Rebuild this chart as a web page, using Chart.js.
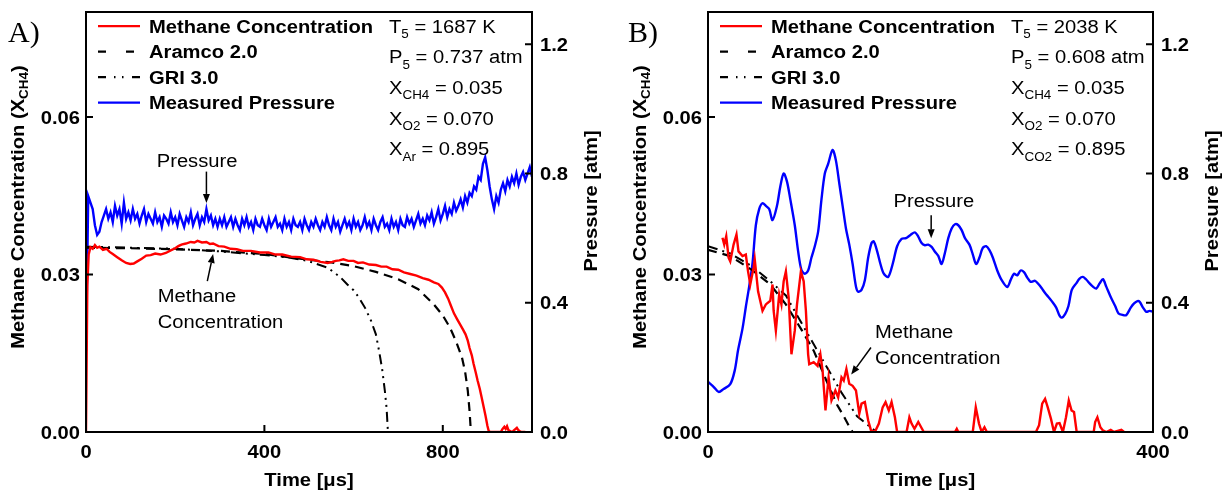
<!DOCTYPE html>
<html>
<head>
<meta charset="utf-8">
<script src="https://cdn.jsdelivr.net/npm/chart.js@4.4.0/dist/chart.umd.min.js"></script>
<style>
body { margin: 0; background: #fff; }
#wrap { position: relative; width: 1225px; height: 493px; }
.panel { position: absolute; top: 0; height: 493px; }
</style>
</head>
<body>
<div id="wrap">
  <div class="panel" style="left:0;width:612px"><canvas id="chartA"></canvas></div>
  <div class="panel" style="left:612px;width:613px"><canvas id="chartB"></canvas></div>
</div>
<script>
// ---- tick labels ----
var xTicksA = [0, 400, 800];
var xTicksB = [0, 400];
var concTicks = [0, 0.03, 0.06];
var concTickLabels = ['0.00', '0.03', '0.06'];
var pressTicks = [0, 0.4, 0.8, 1.2];
var pressTickLabels = ['0.0', '0.4', '0.8', '1.2'];

var seriesNames = ['Methane Concentration', 'Aramco 2.0', 'GRI 3.0', 'Measured Pressure'];

// ---- panel A (T5 = 1687 K) ----
var methaneTimeA = [0, 3, 6, 10, 15, 20, 25, 30, 38, 46, 53, 60, 70, 80, 90, 99, 107, 115, 125, 135, 145, 155, 167, 179, 190, 200, 207, 214, 224, 235, 243, 250, 260, 270, 278, 285, 297, 310, 324, 338, 352, 370, 390, 409, 425, 440, 460, 480, 495, 510, 526, 542, 552, 560, 568, 577, 588, 600, 610, 621, 635, 650, 662, 674, 687, 700, 713, 727, 741, 755, 768, 780, 790, 798, 805, 812, 818, 825, 832, 840, 846, 851, 856, 860, 865, 869, 874, 878, 883, 887, 892, 896, 900, 903, 906, 930, 934, 938, 941, 944, 947, 950, 955, 958, 962, 966, 969, 972, 976, 985];
var methaneA = [0, 0.028, 0.0338, 0.0352, 0.0349, 0.0356, 0.0351, 0.0353, 0.0347, 0.0349, 0.0343, 0.0339, 0.0333, 0.0327, 0.0322, 0.0320, 0.0321, 0.0325, 0.0330, 0.0336, 0.0337, 0.0340, 0.0338, 0.0341, 0.0346, 0.0350, 0.0354, 0.0357, 0.0359, 0.0362, 0.0361, 0.0364, 0.0361, 0.0362, 0.0358, 0.0359, 0.0354, 0.0353, 0.0349, 0.0348, 0.0345, 0.0345, 0.0342, 0.0342, 0.0338, 0.0338, 0.0334, 0.0333, 0.0329, 0.0328, 0.0324, 0.0322, 0.0324, 0.0326, 0.0327, 0.0329, 0.0326, 0.0326, 0.0322, 0.0323, 0.0319, 0.0318, 0.0315, 0.0315, 0.0310, 0.0309, 0.0304, 0.0301, 0.0298, 0.0293, 0.0290, 0.0285, 0.0282, 0.0275, 0.0266, 0.0254, 0.0241, 0.0226, 0.0215, 0.0203, 0.0194, 0.0186, 0.0174, 0.0160, 0.0146, 0.0130, 0.0113, 0.0098, 0.0082, 0.0066, 0.0046, 0.0030, 0.0012, 0.0002, 0, 0, 0.0006, 0.0010, 0.0006, 0.0011, 0.0004, 0.0002, 0, 0.0002, 0.0005, 0.0008, 0.0004, 0.0002, 0, 0];

var aramcoTimeA = [0, 100, 200, 300, 400, 500, 550, 600, 650, 700, 745, 780, 800, 816, 830, 843, 850, 856, 860, 863];
var aramcoA = [0.0351, 0.0350, 0.0348, 0.0345, 0.0339, 0.0328, 0.0323, 0.0316, 0.0305, 0.0291, 0.0272, 0.0243, 0.0222, 0.0199, 0.0172, 0.0142, 0.0115, 0.0079, 0.0040, 0];

var griTimeA = [0, 100, 200, 300, 400, 450, 497, 542, 570, 586, 600, 612, 626, 639, 650, 657, 664, 670, 674, 677];
var griA = [0.0353, 0.0351, 0.0349, 0.0344, 0.0337, 0.0333, 0.0326, 0.0313, 0.0295, 0.0281, 0.0270, 0.0256, 0.0236, 0.0212, 0.0186, 0.0155, 0.0120, 0.0079, 0.0045, 0];

// measured pressure, one sample every 5 us from 0 to 1000 us
var pressureStepA = 5;
var pressureA = [
  0.25, 0.73, 0.71, 0.69, 0.64, 0.61, 0.62, 0.65, 0.67, 0.69, 0.66, 0.68, 0.65, 0.70, 0.67, 0.69, 0.645, 0.71, 0.66, 0.68,
  0.655, 0.69, 0.66, 0.675, 0.645, 0.67, 0.69, 0.65, 0.675, 0.66, 0.645, 0.68, 0.65, 0.665, 0.635, 0.67, 0.66, 0.645, 0.68, 0.65,
  0.665, 0.64, 0.675, 0.655, 0.635, 0.665, 0.65, 0.68, 0.64, 0.66, 0.675, 0.64, 0.665, 0.65, 0.69, 0.655, 0.67, 0.64, 0.66, 0.635,
  0.66, 0.64, 0.665, 0.635, 0.65, 0.665, 0.635, 0.66, 0.64, 0.625, 0.66, 0.64, 0.665, 0.635, 0.65, 0.625, 0.66, 0.64, 0.635, 0.66,
  0.64, 0.625, 0.66, 0.635, 0.65, 0.665, 0.635, 0.645, 0.625, 0.66, 0.635, 0.65, 0.625, 0.66, 0.64, 0.635, 0.65, 0.625, 0.66, 0.64,
  0.625, 0.65, 0.635, 0.66, 0.64, 0.625, 0.65, 0.635, 0.665, 0.64, 0.625, 0.66, 0.635, 0.65, 0.62, 0.64, 0.66, 0.635, 0.65, 0.625,
  0.66, 0.635, 0.65, 0.625, 0.64, 0.665, 0.635, 0.65, 0.625, 0.66, 0.64, 0.625, 0.65, 0.665, 0.635, 0.645, 0.625, 0.66, 0.635, 0.65,
  0.625, 0.66, 0.64, 0.635, 0.665, 0.645, 0.66, 0.635, 0.655, 0.675, 0.645, 0.66, 0.64, 0.67, 0.655, 0.68, 0.645, 0.665, 0.69, 0.655,
  0.675, 0.70, 0.665, 0.69, 0.675, 0.71, 0.685, 0.70, 0.72, 0.695, 0.73, 0.71, 0.74, 0.73, 0.76, 0.75, 0.79, 0.78, 0.83, 0.85,
  0.81, 0.76, 0.72, 0.69, 0.73, 0.71, 0.75, 0.77, 0.745, 0.78, 0.76, 0.79, 0.77, 0.80, 0.765, 0.79, 0.805, 0.78, 0.80, 0.82,
  0.79
];

// ---- panel B (T5 = 2038 K) ----
var methaneTimeB = [13, 14.6, 16.4, 18.5, 20, 23, 25.6, 27.4, 31, 34, 36, 38, 41, 42, 45, 49, 52, 56, 58, 59, 61, 64, 66, 68, 70, 72.5, 75, 78, 80, 83.5, 86, 88, 90, 91, 95, 98.5, 101, 103, 105.6, 108.4, 111, 114.5, 117, 120, 122, 124.4, 127, 130, 133, 136, 138, 141, 144, 146.5, 150, 153.6, 157, 159.6, 162.5, 165, 168, 170, 178.5, 181, 183, 185.6, 189, 191.6, 194, 222, 223.6, 225, 238, 240.7, 243.6, 246, 248.5, 250.7, 294.8, 297.6, 300.4, 303, 305.4, 308.3, 311, 313.6, 316, 319, 321.8, 324.3, 326.8, 329, 331.4, 346.7, 348, 350, 352.7, 355, 358, 362, 365, 371.6, 374];
var methaneB = [0.0370, 0.0357, 0.0373, 0.0332, 0.0325, 0.0357, 0.0376, 0.0344, 0.0335, 0.0338, 0.0306, 0.0281, 0.0313, 0.0329, 0.0268, 0.0231, 0.0243, 0.0250, 0.0281, 0.0231, 0.0193, 0.0262, 0.0243, 0.0287, 0.0306, 0.0256, 0.0148, 0.0193, 0.0243, 0.0306, 0.0287, 0.0231, 0.0148, 0.0129, 0.0133, 0.0126, 0.0148, 0.0117, 0.0041, 0.0104, 0.0060, 0.0079, 0.0066, 0.0104, 0.0098, 0.0120, 0.0092, 0.0088, 0.0079, 0.0035, 0.0054, 0.0057, 0.0022, 0.0003, 0, 0.0016, 0.0047, 0.0057, 0.0041, 0.0057, 0.0028, 0, 0, 0.0028, 0.0016, 0.0006, 0.0019, 0.0009, 0, 0, 0.0006, 0, 0, 0.0047, 0.0016, 0, 0.0009, 0, 0, 0.0013, 0.0054, 0.0063, 0.0047, 0.0025, 0, 0.0016, 0.0017, 0, 0.0028, 0.0060, 0.0041, 0.0038, 0, 0, 0.0019, 0.0028, 0.0009, 0.0003, 0, 0.0004, 0, 0.0004, 0];

var aramcoTimeB = [0, 20, 40, 56, 70, 84, 95, 106, 116, 122, 127, 130];
var aramcoB = [0.0347, 0.0335, 0.0308, 0.0281, 0.0243, 0.0195, 0.0155, 0.0100, 0.0052, 0.0030, 0.0010, 0];

var griTimeB = [0, 20, 40, 56, 70, 88, 107, 120, 134, 148, 152];
var griB = [0.0354, 0.0340, 0.0315, 0.0287, 0.0260, 0.0193, 0.0123, 0.0075, 0.0030, 0.0006, 0];

var pressureTimeB = [0, 5, 9.6, 14, 20, 24, 27, 31, 34, 37, 40, 43, 46, 49, 52, 55, 58, 62, 65, 68, 71, 74, 78, 81, 84, 87, 90, 93, 96, 99, 102, 105, 108, 112, 115, 118, 121, 124, 127, 130, 133, 135, 138, 141, 144, 147, 149, 152, 155, 158, 162, 166, 170, 174, 178, 182, 186, 189, 192, 195, 198, 201, 204, 207, 210, 213, 216, 219, 222, 225, 228, 231, 235, 238, 241, 244, 247, 250, 253, 256, 260, 264, 269, 272, 275, 278, 281, 284, 287, 290, 294, 297, 300, 303, 306, 309, 313, 316, 318, 321, 324, 327, 331, 334, 337, 340, 343, 346, 349, 352, 355, 358, 362, 366, 369, 373, 376, 380, 383, 386, 388, 391, 394, 397, 400];
var pressureB = [0.155, 0.140, 0.124, 0.133, 0.148, 0.190, 0.253, 0.320, 0.387, 0.450, 0.522, 0.640, 0.690, 0.708, 0.700, 0.690, 0.656, 0.700, 0.760, 0.800, 0.775, 0.720, 0.640, 0.560, 0.501, 0.490, 0.500, 0.540, 0.575, 0.620, 0.720, 0.800, 0.830, 0.873, 0.840, 0.770, 0.700, 0.630, 0.580, 0.520, 0.450, 0.434, 0.440, 0.470, 0.540, 0.585, 0.590, 0.560, 0.520, 0.490, 0.480, 0.520, 0.575, 0.598, 0.600, 0.610, 0.618, 0.605, 0.585, 0.578, 0.580, 0.573, 0.558, 0.545, 0.520, 0.555, 0.600, 0.630, 0.643, 0.640, 0.625, 0.600, 0.580, 0.550, 0.520, 0.540, 0.570, 0.575, 0.563, 0.540, 0.500, 0.470, 0.449, 0.470, 0.490, 0.485, 0.500, 0.495, 0.478, 0.465, 0.468, 0.458, 0.445, 0.430, 0.418, 0.405, 0.385, 0.360, 0.354, 0.365, 0.390, 0.440, 0.460, 0.475, 0.480, 0.472, 0.460, 0.450, 0.444, 0.460, 0.473, 0.450, 0.418, 0.390, 0.367, 0.362, 0.362, 0.385, 0.398, 0.405, 0.403, 0.385, 0.372, 0.375, 0.372];

var paramsA = [['T', '5', ' = 1687 K'], ['P', '5', ' = 0.737 atm'], ['X', 'CH4', ' = 0.035'], ['X', 'O2', ' = 0.070'], ['X', 'Ar', ' = 0.895']];
var paramsB = [['T', '5', ' = 2038 K'], ['P', '5', ' = 0.608 atm'], ['X', 'CH4', ' = 0.035'], ['X', 'O2', ' = 0.070'], ['X', 'CO2', ' = 0.895']];

// ---- drawing helpers ----
var SANS = '"Liberation Sans", Arial, Helvetica, sans-serif';
var SERIF = '"Liberation Serif", "Times New Roman", serif';
var SX = 1.12; // the original lettering is a bit wider than Arial

function rich(ctx, parts, x, y, size, bold, align) {
  var subSize = Math.round(size * 0.66);
  var font = function(s) { return (bold ? 'bold ' : '') + s + 'px ' + SANS; };
  var w = 0;
  parts.forEach(function(p, i) {
    ctx.font = font(i % 2 ? subSize : size);
    w += ctx.measureText(p).width * SX;
  });
  var cx = align === 'center' ? x - w / 2 : (align === 'right' ? x - w : x);
  parts.forEach(function(p, i) {
    var sub = i % 2 === 1;
    ctx.font = font(sub ? subSize : size);
    ctx.save();
    ctx.translate(cx, y + (sub ? size * 0.3 : 0));
    ctx.scale(SX, 1);
    ctx.fillText(p, 0, 0);
    ctx.restore();
    cx += ctx.measureText(p).width * SX;
  });
}

function arrow(ctx, x1, y1, x2, y2) {
  var ang = Math.atan2(y2 - y1, x2 - x1), L = 9, W = 3.5;
  ctx.beginPath();
  ctx.moveTo(x1, y1);
  ctx.lineTo(x2 - L * Math.cos(ang), y2 - L * Math.sin(ang));
  ctx.lineWidth = 1.5;
  ctx.stroke();
  ctx.beginPath();
  ctx.moveTo(x2, y2);
  ctx.lineTo(x2 - L * Math.cos(ang) + W * Math.sin(ang), y2 - L * Math.sin(ang) - W * Math.cos(ang));
  ctx.lineTo(x2 - L * Math.cos(ang) - W * Math.sin(ang), y2 - L * Math.sin(ang) + W * Math.cos(ang));
  ctx.closePath();
  ctx.fill();
}

function decor(cfg) {
  return {
    id: 'decor',
    afterDraw: function(chart) {
      var ctx = chart.ctx, a = chart.chartArea;
      var sx = chart.scales.x, sc = chart.scales.yC, sp = chart.scales.yP;
      ctx.save();
      ctx.fillStyle = '#000';
      ctx.strokeStyle = '#000';
      ctx.textAlign = 'left';
      ctx.textBaseline = 'alphabetic';

      // frame and inward ticks
      ctx.lineWidth = 2;
      ctx.strokeRect(a.left, a.top, a.right - a.left, a.bottom - a.top);
      ctx.beginPath();
      cfg.xTicks.forEach(function(v) {
        var x = sx.getPixelForValue(v);
        ctx.moveTo(x, a.bottom); ctx.lineTo(x, a.bottom - 7);
      });
      concTicks.forEach(function(v) {
        var y = sc.getPixelForValue(v);
        ctx.moveTo(a.left, y); ctx.lineTo(a.left + 7, y);
      });
      pressTicks.forEach(function(v) {
        var y = sp.getPixelForValue(v);
        ctx.moveTo(a.right, y); ctx.lineTo(a.right - 7, y);
      });
      ctx.stroke();

      // tick labels
      cfg.xTicks.forEach(function(v) {
        rich(ctx, [String(v)], sx.getPixelForValue(v), a.bottom + 26, 18, true, 'center');
      });
      concTicks.forEach(function(v, i) {
        rich(ctx, [concTickLabels[i]], a.left - 6, sc.getPixelForValue(v) + 6.5, 18, true, 'right');
      });
      pressTicks.forEach(function(v, i) {
        rich(ctx, [pressTickLabels[i]], a.right + 8, sp.getPixelForValue(v) + 6.5, 18, true, 'left');
      });

      // axis titles
      rich(ctx, ['Time [\u03bcs]'], (a.left + a.right) / 2, 486, 18, true, 'center');
      ctx.textBaseline = 'middle';
      ctx.save();
      ctx.translate(a.left - 67, 207);
      ctx.rotate(-Math.PI / 2);
      rich(ctx, ['Methane Concentration (X', 'CH4', ')'], 0, 0, 18, true, 'center');
      ctx.restore();
      ctx.save();
      ctx.translate(a.right + 60, 201);
      ctx.rotate(-Math.PI / 2);
      rich(ctx, ['Pressure [atm]'], 0, 0, 18, true, 'center');
      ctx.restore();
      ctx.textBaseline = 'alphabetic';

      // legend inside the plot
      chart.data.datasets.forEach(function(ds, i) {
        var yb = a.top + 20.7 + 25.5 * i;
        ctx.save();
        ctx.strokeStyle = ds.borderColor;
        ctx.lineWidth = 2.2;
        ctx.setLineDash(ds.legendDash);
        ctx.beginPath();
        ctx.moveTo(a.left + 12, yb - 6.5);
        ctx.lineTo(a.left + 54, yb - 6.5);
        ctx.stroke();
        ctx.restore();
        rich(ctx, [ds.label], a.left + 63, yb, 18, true, 'left');
      });

      // conditions
      cfg.params.forEach(function(p, i) {
        rich(ctx, p, a.left + 303, a.top + 20.7 + 30.6 * i, 18, false, 'left');
      });

      // notes with arrows
      cfg.notes.forEach(function(n) {
        var ys = n.axis === 'p' ? sp : sc;
        var tx = sx.getPixelForValue(n.t), ty = ys.getPixelForValue(n.v);
        n.lines.forEach(function(s, k) {
          rich(ctx, [s], tx, ty + 26 * k, 18, false, n.align);
        });
        arrow(ctx, sx.getPixelForValue(n.from[0]), ys.getPixelForValue(n.from[1]),
              sx.getPixelForValue(n.to[0]), ys.getPixelForValue(n.to[1]));
      });

      // panel letter
      ctx.font = '30px ' + SERIF;
      ctx.fillText(cfg.letter, cfg.letterX, 42);
      ctx.restore();
    }
  };
}

function xy(ts, vs) {
  return ts.map(function(t, i) { return { x: t, y: vs[i] }; });
}

function makeChart(id, cfg) {
  var datasets = [
    { label: seriesNames[0], data: cfg.methane, borderColor: '#ff0000', borderWidth: 2.4, yAxisID: 'yC', legendDash: [] },
    { label: seriesNames[1], data: cfg.aramco, borderColor: '#000000', borderWidth: 2.2, borderDash: [9, 6], yAxisID: 'yC', legendDash: [8, 20] },
    { label: seriesNames[2], data: cfg.gri, borderColor: '#000000', borderWidth: 2, borderDash: [10, 5, 2, 5, 2, 5], yAxisID: 'yC', legendDash: [8, 8, 1.5, 6.5, 1.5, 8.5, 8, 100] },
    { label: seriesNames[3], data: cfg.pressure, borderColor: '#0000ff', borderWidth: 2.4, yAxisID: 'yP', legendDash: [], tension: cfg.pressureTension }
  ];
  return new Chart(document.getElementById(id), {
    type: 'line',
    data: { datasets: datasets },
    options: {
      responsive: true,
      maintainAspectRatio: false,
      animation: false,
      layout: { padding: { top: 12, left: 0, right: 0, bottom: 0 } },
      elements: { point: { radius: 0 }, line: { tension: 0 } },
      plugins: { legend: { display: false }, tooltip: { enabled: false } },
      scales: {
        x: {
          type: 'linear', min: 0, max: cfg.xMax,
          ticks: { display: false }, grid: { display: false }, border: { display: false },
          afterFit: function(s) { s.height = 61; }
        },
        yC: {
          position: 'left', min: 0, max: 0.08,
          ticks: { display: false }, grid: { display: false }, border: { display: false },
          afterFit: function(s) { s.width = cfg.leftW; }
        },
        yP: {
          position: 'right', min: 0, max: 1.3,
          ticks: { display: false }, grid: { display: false }, border: { display: false },
          afterFit: function(s) { s.width = cfg.rightW; }
        }
      }
    },
    plugins: [decor(cfg)]
  });
}

makeChart('chartA', {
  letter: 'A)', letterX: 8, xMax: 1000, xTicks: xTicksA, leftW: 86, rightW: 80,
  params: paramsA, pressureTension: 0,
  methane: xy(methaneTimeA, methaneA),
  aramco: xy(aramcoTimeA, aramcoA),
  gri: xy(griTimeA, griA),
  pressure: pressureA.map(function(v, i) { return { x: i * pressureStepA, y: v }; }),
  notes: [
    { lines: ['Pressure'], axis: 'p', t: 249, v: 0.821, align: 'center', from: [270, 0.806], to: [270, 0.709] },
    { lines: ['Methane', 'Concentration'], axis: 'c', t: 161, v: 0.02482, align: 'left', from: [272, 0.02875], to: [285, 0.0339] }
  ]
});

makeChart('chartB', {
  letter: 'B)', letterX: 16, xMax: 400, xTicks: xTicksB, leftW: 96, rightW: 72,
  params: paramsB, pressureTension: 0.3,
  methane: xy(methaneTimeB, methaneB),
  aramco: xy(aramcoTimeB, aramcoB),
  gri: xy(griTimeB, griB),
  pressure: xy(pressureTimeB, pressureB),
  notes: [
    { lines: ['Pressure'], axis: 'p', t: 203, v: 0.697, align: 'center', from: [200.6, 0.671], to: [200.6, 0.60] },
    { lines: ['Methane', 'Concentration'], axis: 'c', t: 150, v: 0.0180, align: 'left', from: [146.5, 0.0161], to: [128.7, 0.01093] }
  ]
});
</script>
</body>
</html>
